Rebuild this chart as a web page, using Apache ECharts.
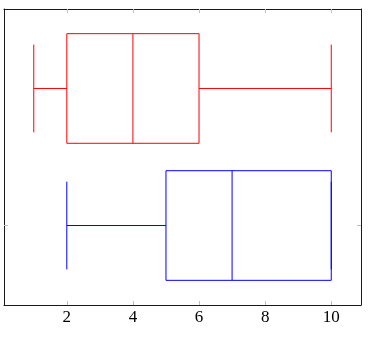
<!DOCTYPE html>
<html>
<head>
<meta charset="utf-8">
<script src="https://cdn.jsdelivr.net/npm/echarts@6/dist/echarts.min.js"></script>
<style>
html,body{margin:0;padding:0;background:#fff;}
#chart{width:371px;height:338px;}
</style>
</head>
<body>
<div id="chart"></div>
<script>
// Data
const boxNames = ['red box', 'blue box'];
const boxPositions = [2, 1];
const lowerWhisker = [1, 2];
const lowerQuartile = [2, 5];
const median = [4, 7];
const upperQuartile = [6, 10];
const upperWhisker = [10, 10];
const xTicks = [2, 4, 6, 8, 10];
const yTicks = [1];

const boxColors = ['#ff0000', '#0000ff'];
const boxHalf = 0.4;
const whiskerHalf = 0.32;

const seriesData = boxNames.map((n, i) => [
  boxPositions[i], lowerWhisker[i], lowerQuartile[i], median[i], upperQuartile[i], upperWhisker[i], i
]);

function renderItem(params, api) {
  const y = api.value(0), lw = api.value(1), q1 = api.value(2), md = api.value(3), q3 = api.value(4), uw = api.value(5);
  const idx = api.value(6);
  const color = boxColors[idx];
  const mkStyle = () => ({ stroke: color, lineWidth: 1, fill: 'none' });
  const p = (x, yy) => api.coord([x, yy]);
  const line = (a, b) => ({ type: 'line', silent: true, shape: { x1: a[0], y1: a[1], x2: b[0], y2: b[1] }, style: mkStyle() });
  const tl = p(q1, y + boxHalf), br = p(q3, y - boxHalf);
  return {
    type: 'group',
    children: [
      line(p(lw, y), p(q1, y)),
      line(p(lw, y - whiskerHalf), p(lw, y + whiskerHalf)),
      line(p(q3, y), p(uw, y)),
      line(p(uw, y - whiskerHalf), p(uw, y + whiskerHalf)),
      { type: 'rect', silent: true, shape: { x: tl[0], y: tl[1], width: br[0] - tl[0], height: br[1] - tl[1] }, style: mkStyle() },
      line(p(md, y - boxHalf), p(md, y + boxHalf))
    ]
  };
}

const tickStyle = { color: '#c0c0c0', width: 1 };
const lineStyle = { color: '#1a1a1a', width: 1 };

const chart = echarts.init(document.getElementById('chart'), null, { renderer: 'canvas' });
chart.setOption({
  animation: false,
  backgroundColor: '#fff',
  grid: { left: 4, right: 10, top: 9, bottom: 33, containLabel: false },
  xAxis: [
    {
      type: 'value', min: 0.1, max: 10.9, position: 'bottom',
      splitLine: { show: false },
      axisLine: { show: true, lineStyle: lineStyle },
      axisTick: { show: true, inside: true, length: 4, lineStyle: tickStyle, customValues: xTicks },
      axisLabel: { show: true, customValues: xTicks, margin: 4, fontFamily: 'Liberation Serif', fontSize: 17, color: '#000' }
    },
    {
      type: 'value', min: 0.1, max: 10.9, position: 'top',
      splitLine: { show: false },
      axisLine: { show: true, lineStyle: lineStyle },
      axisTick: { show: true, inside: true, length: 4, lineStyle: tickStyle, customValues: xTicks },
      axisLabel: { show: false }
    }
  ],
  yAxis: [
    {
      type: 'value', min: 0.42, max: 2.58, position: 'left',
      splitLine: { show: false },
      axisLine: { show: true, lineStyle: lineStyle },
      axisTick: { show: true, inside: true, length: 4, lineStyle: tickStyle, customValues: yTicks },
      axisLabel: { show: false }
    },
    {
      type: 'value', min: 0.42, max: 2.58, position: 'right',
      splitLine: { show: false },
      axisLine: { show: true, lineStyle: lineStyle },
      axisTick: { show: true, inside: true, length: 4, lineStyle: tickStyle, customValues: yTicks },
      axisLabel: { show: false }
    }
  ],
  series: [{
    type: 'custom',
    xAxisIndex: 0,
    yAxisIndex: 0,
    renderItem: renderItem,
    encode: { x: [1, 2, 3, 4, 5], y: 0 },
    data: seriesData,
    clip: false
  }]
});
</script>
</body>
</html>
